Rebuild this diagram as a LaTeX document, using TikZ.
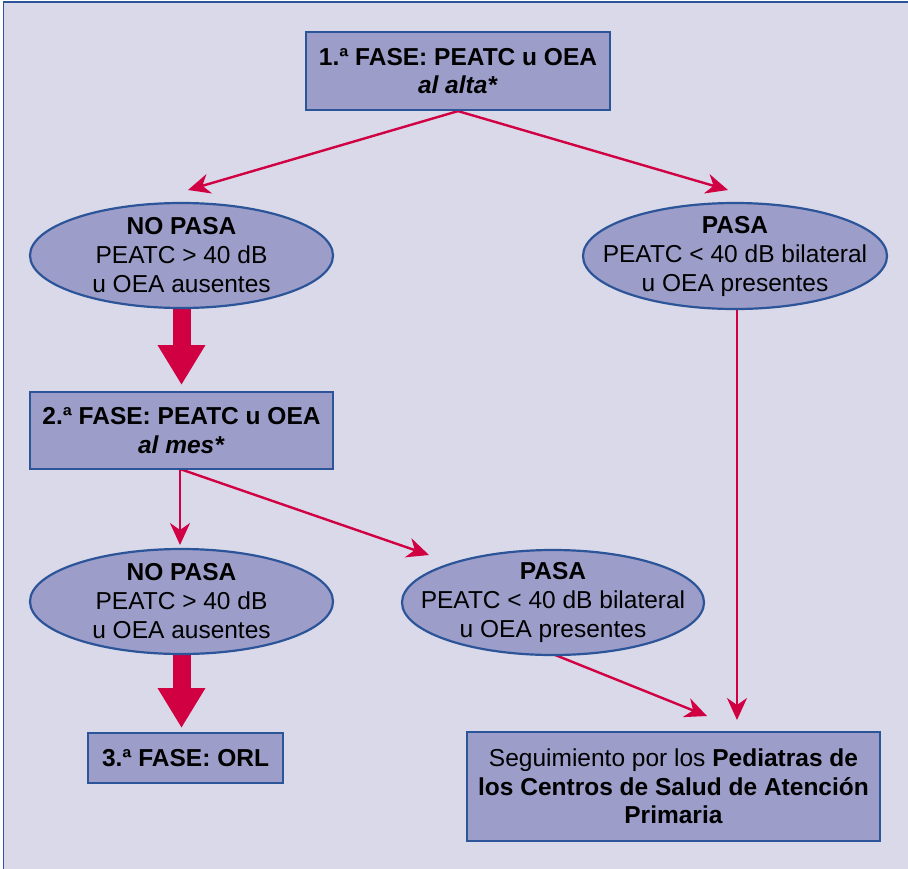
\documentclass[tikz,border=0pt]{standalone}
\usepackage{fontspec}
\setmainfont{Liberation Sans}
\usetikzlibrary{arrows.meta,shapes.geometric,backgrounds}

\definecolor{bgcol}{RGB}{217,217,233}
\definecolor{boxfill}{RGB}{156,158,201}
\definecolor{boxline}{RGB}{44,84,152}
\definecolor{arrowred}{RGB}{208,0,66}

\tikzset{
  stagebox/.style={rectangle, draw=boxline, line width=2.2pt, fill=boxfill,
    inner sep=0pt, align=center, text=black,
    font=\fontsize{24.5}{28.5}\selectfont\bfseries},
  result/.style={ellipse, draw=boxline, line width=2.2pt, fill=boxfill,
    inner sep=0pt},
  resulttext/.style={align=center, text=black, inner sep=0pt,
    font=\fontsize{24.5}{29}\selectfont},
  thinarrow/.style={draw=arrowred, line width=2.4pt,
    -{Stealth[length=22pt,width=20pt,inset=7pt]}},
  thickarrow/.style={draw=arrowred, line width=18pt,
    -{Triangle[length=40pt,width=45pt]}},
}

\begin{document}
\begin{tikzpicture}[x=1pt,y=-1pt]
\useasboundingbox (0,0) rectangle (908,868);

% page background with its framing rule
\begin{scope}[on background layer]
  \fill[white] (0,0) rectangle (908,868);
  \fill[bgcol] (3.5,2) rectangle (920,880);
  \draw[boxline, line width=1.5pt] (3.5,880) -- (3.5,2) -- (920,2);
\end{scope}

% stages and screening results
\node[stagebox, minimum width=304pt, minimum height=78pt] (fase1) at (458,71)
  {1.ª FASE: PEATC u OEA\\\textit{al alta*}};
\node[result, minimum width=303pt, minimum height=105pt,
  label={[resulttext]center:\textbf{NO PASA}\\PEATC > 40 dB\\u OEA ausentes}]
  (nopasa1) at (181.5,255.5) {};
\node[result, minimum width=304pt, minimum height=106pt,
  label={[resulttext]center:\textbf{PASA}\\PEATC < 40 dB bilateral\\u OEA presentes}]
  (pasa1) at (735,256) {};
\node[stagebox, minimum width=303pt, minimum height=77pt] (fase2) at (181.5,430.5)
  {2.ª FASE: PEATC u OEA\\\textit{al mes*}};
\node[result, minimum width=303pt, minimum height=105pt,
  label={[resulttext]center:\textbf{NO PASA}\\PEATC > 40 dB\\u OEA ausentes}]
  (nopasa2) at (181.5,601.5) {};
\node[result, minimum width=302pt, minimum height=105pt,
  label={[resulttext]center:\textbf{PASA}\\PEATC < 40 dB bilateral\\u OEA presentes}]
  (pasa2) at (553,602.5) {};
\node[stagebox, minimum width=195pt, minimum height=50pt] (fase3) at (185.5,758)
  {3.ª FASE: ORL};
\node[stagebox, minimum width=413pt, minimum height=109pt, font=\fontsize{24.5}{28.5}\selectfont] (seguim) at (673.5,786.5)
  {Seguimiento por los \textbf{Pediatras de}\\\textbf{los Centros de Salud de Atención}\\\textbf{Primaria}};

% arrow tips that stop short of their targets
\coordinate (tipNP1) at (188,190);
\coordinate (tipP1)  at (728,190);
\coordinate (tipF2)  at (181.5,385);
\coordinate (tipNP2) at (180,545);
\coordinate (tipP2)  at (429,555);
\coordinate (tipF3)  at (181.5,728);
\coordinate (tipSA)  at (707,716);
\coordinate (tipSB)  at (737,720);
\coordinate (f2out)  at (180,469);
\coordinate (p1out)  at (737,305);

\begin{scope}[on background layer]
  \draw[thinarrow] (fase1.south) -- (tipNP1);
  \draw[thinarrow] (fase1.south) -- (tipP1);
  \draw[thickarrow] ([yshift=6pt]nopasa1.south) -- (tipF2);
  \draw[thinarrow] (f2out) -- (tipNP2);
  \draw[thinarrow] (f2out) -- (tipP2);
  \draw[thickarrow] ([yshift=6pt]nopasa2.south) -- (tipF3);
  \draw[thinarrow] ([yshift=2pt]pasa2.south) -- (tipSA);
  \draw[thinarrow] (p1out) -- (tipSB);
\end{scope}
\end{tikzpicture}
\end{document}
